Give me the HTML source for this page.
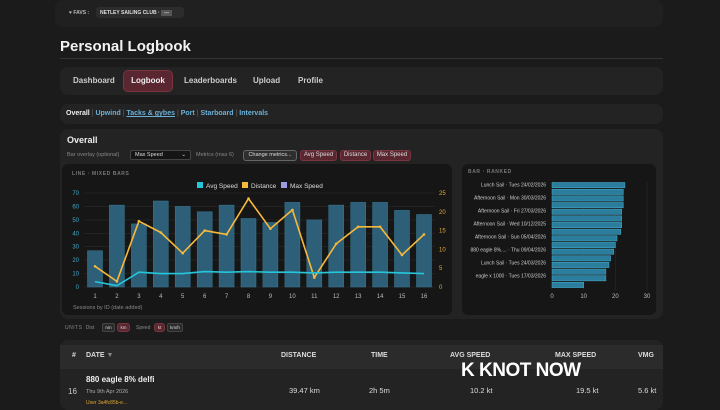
<!DOCTYPE html>
<html><head><meta charset="utf-8"><style>
*{box-sizing:border-box;margin:0;padding:0}
body{width:720px;height:405px;background:#1b1b1b;font-family:"Liberation Sans",sans-serif;color:#ddd;position:relative;overflow:hidden}
.abs{position:absolute}
.panel{position:absolute;background:#232323;border-radius:8px}
.pill{position:absolute;border-radius:3px;font-size:6px;color:#ddd;background:#5a2630;border:1px solid #7a3440;text-align:center;line-height:9px}
</style></head><body>
<div class="panel" style="left:55px;top:0;width:608px;height:27px;background:#202020"></div>
<div class="abs" style="left:69px;top:10px;font-size:5px;color:#bbb;font-weight:bold">♥ FAVS :</div>
<div class="abs" style="left:96px;top:7px;width:88px;height:11px;background:#2c2c2c;border-radius:3px;font-size:5px;font-weight:bold;color:#ddd;padding:3px 4px">NETLEY SAILING CLUB · <span style="background:#555;padding:0 3px">---</span></div>
<div class="abs" style="left:60px;top:38px;font-size:15px;font-weight:bold;color:#f2f2f2">Personal Logbook</div>
<div class="abs" style="left:60px;top:58px;width:603px;height:1px;background:#333"></div>
<div class="panel" style="left:60px;top:67px;width:603px;height:28px"></div>
<div class="abs" style="left:73px;top:76px;font-size:8px;font-weight:bold;color:#ccc">Dashboard</div>
<div class="abs" style="left:123px;top:70px;width:50px;height:22px;background:#5a2630;border:1px solid #7a3440;border-radius:5px;font-size:8px;font-weight:bold;color:#eee;text-align:center;line-height:20px">Logbook</div>
<div class="abs" style="left:184px;top:76px;font-size:8px;font-weight:bold;color:#ccc">Leaderboards</div>
<div class="abs" style="left:253px;top:76px;font-size:8px;font-weight:bold;color:#ccc">Upload</div>
<div class="abs" style="left:298px;top:76px;font-size:8px;font-weight:bold;color:#ccc">Profile</div>
<div class="panel" style="left:60px;top:104px;width:603px;height:20px"></div>
<div class="abs" style="left:66px;top:110px;font-size:7px;font-weight:bold;color:#eee;white-space:nowrap">Overall <span style="color:#666;font-weight:normal">|</span> <span style="color:#6ab0d8">Upwind</span> <span style="color:#666;font-weight:normal">|</span> <span style="color:#6ab0d8;text-decoration:underline">Tacks &amp; gybes</span> <span style="color:#666;font-weight:normal">|</span> <span style="color:#6ab0d8">Port</span> <span style="color:#666;font-weight:normal">|</span> <span style="color:#6ab0d8">Starboard</span> <span style="color:#666;font-weight:normal">|</span> <span style="color:#6ab0d8">Intervals</span></div>
<div class="panel" style="left:60px;top:129px;width:603px;height:190px"></div>
<div class="abs" style="left:67px;top:135px;font-size:9px;font-weight:bold;color:#eee">Overall</div>
<div class="abs" style="left:67px;top:152px;font-size:5.5px;color:#888">Bar overlay (optional)</div>
<div class="abs" style="left:130px;top:150px;width:61px;height:10px;background:#151515;border:1px solid #444;border-radius:2px;font-size:5.5px;color:#ddd;padding:1px 4px">Max Speed<span style="float:right">⌄</span></div>
<div class="abs" style="left:196px;top:152px;font-size:5.5px;color:#888">Metrics (max 6)</div>
<div class="abs" style="left:243px;top:150px;width:54px;height:11px;background:#2e2e2e;border:1px solid #666;border-radius:3px;font-size:5.5px;color:#ddd;text-align:center;line-height:9px">Change metrics...</div>
<div class="pill" style="left:300px;top:150px;width:37px;height:11px">Avg Speed</div>
<div class="pill" style="left:340px;top:150px;width:31px;height:11px">Distance</div>
<div class="pill" style="left:373px;top:150px;width:38px;height:11px">Max Speed</div>
<svg class="abs" style="left:0;top:0" width="720" height="405" font-family="Liberation Sans, sans-serif">
<rect x="62" y="164" width="390" height="151" rx="6" fill="#161616"/>
<text x="72" y="175" font-size="5" fill="#777" font-weight="bold" letter-spacing="0.6">LINE · MIXED BARS</text>
<rect x="197" y="182" width="6" height="6" fill="#26c6da"/><text x="206" y="188" font-size="6.5" fill="#ddd">Avg Speed</text>
<rect x="242" y="182" width="6" height="6" fill="#f6b93b"/><text x="251" y="188" font-size="6.5" fill="#ddd">Distance</text>
<rect x="281" y="182" width="6" height="6" fill="#9c9ce0"/><text x="290" y="188" font-size="6.5" fill="#ddd">Max Speed</text>
<g stroke="#2a2a2a" stroke-width="0.6">
<line x1="84" x2="435" y1="287" y2="287"/><line x1="84" x2="435" y1="273.6" y2="273.6"/><line x1="84" x2="435" y1="260.1" y2="260.1"/><line x1="84" x2="435" y1="246.7" y2="246.7"/><line x1="84" x2="435" y1="233.3" y2="233.3"/><line x1="84" x2="435" y1="219.9" y2="219.9"/><line x1="84" x2="435" y1="206.4" y2="206.4"/><line x1="84" x2="435" y1="193" y2="193"/>
</g>
<g font-size="6" fill="#3fa9c7" text-anchor="end">
<text x="79" y="289">0</text><text x="79" y="275.6">10</text><text x="79" y="262">20</text><text x="79" y="248.7">30</text><text x="79" y="235.3">40</text><text x="79" y="222">50</text><text x="79" y="208.4">60</text><text x="79" y="195">70</text></g>
<g font-size="6" fill="#e0a82e">
<text x="439" y="289">0</text><text x="439" y="270.2">5</text><text x="439" y="251.4">10</text><text x="439" y="232.6">15</text><text x="439" y="213.8">20</text><text x="439" y="195">25</text></g>
<g fill="#2d5f78" stroke="#3a7a96" stroke-width="0.5">
<rect x="87.5" y="250.7" width="15" height="36.3"/><rect x="109.4" y="205.1" width="15" height="81.9"/><rect x="131.4" y="223.9" width="15" height="63.1"/><rect x="153.3" y="201" width="15" height="86"/><rect x="175.2" y="206.4" width="15" height="80.6"/><rect x="197.2" y="211.8" width="15" height="75.2"/><rect x="219.1" y="205.1" width="15" height="81.9"/><rect x="241" y="218.5" width="15" height="68.5"/><rect x="262.9" y="222.5" width="15" height="64.5"/><rect x="284.9" y="202.4" width="15" height="84.6"/><rect x="306.8" y="219.9" width="15" height="67.1"/><rect x="328.7" y="205.1" width="15" height="81.9"/><rect x="350.7" y="202.4" width="15" height="84.6"/><rect x="372.6" y="202.4" width="15" height="84.6"/><rect x="394.5" y="210.4" width="15" height="76.6"/><rect x="416.5" y="214.5" width="15" height="72.5"/>
</g>
<polyline fill="none" stroke="#f6b93b" stroke-width="1.6" stroke-linejoin="round" points="95,266.3 116.9,281.4 138.9,221.2 160.8,232.5 182.7,253.2 204.7,230.6 226.6,234.4 248.5,198.6 270.4,228.7 292.4,209.9 314.3,277.6 336.2,243.8 358.2,226.8 380.1,226.8 402,255 424,234.4"/>
<g fill="#f6b93b"><circle cx="95" cy="266.3" r="1.3"/><circle cx="116.9" cy="281.4" r="1.3"/><circle cx="138.9" cy="221.2" r="1.3"/><circle cx="160.8" cy="232.5" r="1.3"/><circle cx="182.7" cy="253.2" r="1.3"/><circle cx="204.7" cy="230.6" r="1.3"/><circle cx="226.6" cy="234.4" r="1.3"/><circle cx="248.5" cy="198.6" r="1.3"/><circle cx="270.4" cy="228.7" r="1.3"/><circle cx="292.4" cy="209.9" r="1.3"/><circle cx="314.3" cy="277.6" r="1.3"/><circle cx="336.2" cy="243.8" r="1.3"/><circle cx="358.2" cy="226.8" r="1.3"/><circle cx="380.1" cy="226.8" r="1.3"/><circle cx="402" cy="255" r="1.3"/><circle cx="424" cy="234.4" r="1.3"/></g>
<polyline fill="none" stroke="#26c6da" stroke-width="1.6" stroke-linejoin="round" points="95,281.6 116.9,285.7 138.9,272.2 160.8,273.6 182.7,273.6 204.7,271.6 226.6,272.2 248.5,271.6 270.4,272.2 292.4,272.2 314.3,272.9 336.2,272.2 358.2,272.2 380.1,272.2 402,272.9 424,273.6"/>
<g font-size="6" fill="#bbb" text-anchor="middle">
<text x="95" y="298">1</text><text x="116.9" y="298">2</text><text x="138.9" y="298">3</text><text x="160.8" y="298">4</text><text x="182.7" y="298">5</text><text x="204.7" y="298">6</text><text x="226.6" y="298">7</text><text x="248.5" y="298">8</text><text x="270.4" y="298">9</text><text x="292.4" y="298">10</text><text x="314.3" y="298">11</text><text x="336.2" y="298">12</text><text x="358.2" y="298">13</text><text x="380.1" y="298">14</text><text x="402" y="298">15</text><text x="424" y="298">16</text></g>
<text x="73" y="309" font-size="5.5" fill="#888">Sessions by ID (date added)</text>

<rect x="462" y="164" width="194" height="151" rx="6" fill="#161616"/>
<text x="468" y="173" font-size="5" fill="#777" font-weight="bold" letter-spacing="0.6">BAR · RANKED</text>
<g stroke="#2a2a2a" stroke-width="0.6"><line x1="583.7" x2="583.7" y1="182" y2="290"/><line x1="615.4" x2="615.4" y1="182" y2="290"/><line x1="647" x2="647" y1="182" y2="290"/></g>
<g fill="#2a7d9c" stroke="#4ab0d0" stroke-width="0.5">
<rect x="552" y="182.5" width="72.9" height="5.3"/><rect x="552" y="189.2" width="71.3" height="5.3"/><rect x="552" y="195.8" width="71.3" height="5.3"/><rect x="552" y="202.5" width="71.3" height="5.3"/><rect x="552" y="209.1" width="69.7" height="5.3"/><rect x="552" y="215.8" width="69.7" height="5.3"/><rect x="552" y="222.4" width="69.7" height="5.3"/><rect x="552" y="229.1" width="68.8" height="5.3"/><rect x="552" y="235.7" width="65" height="5.3"/><rect x="552" y="242.4" width="63.4" height="5.3"/><rect x="552" y="249" width="61.8" height="5.3"/><rect x="552" y="255.7" width="58.6" height="5.3"/><rect x="552" y="262.3" width="57" height="5.3"/><rect x="552" y="269" width="53.9" height="5.3"/><rect x="552" y="275.6" width="53.9" height="5.3"/><rect x="552" y="282.3" width="31.7" height="5.3"/></g>
<g font-size="5" fill="#ccc" text-anchor="end">
<text x="546" y="186.5">Lunch Sail · Tues 24/02/2026</text><text x="546" y="199.5">Afternoon Sail · Mon 30/03/2026</text><text x="546" y="212.5">Afternoon Sail · Fri 27/03/2026</text><text x="546" y="225.5">Afternoon Sail · Wed 10/12/2025</text><text x="546" y="238.5">Afternoon Sail · Sun 05/04/2026</text><text x="546" y="251.5">880 eagle 8%.... · Thu 09/04/2026</text><text x="546" y="264.5">Lunch Sail · Tues 24/03/2026</text><text x="546" y="277.5">eagle x 1000 · Tues 17/03/2026</text></g>
<g font-size="6" fill="#bbb" text-anchor="middle"><text x="552" y="298">0</text><text x="583.7" y="298">10</text><text x="615.4" y="298">20</text><text x="647" y="298">30</text></g>
</svg>
<div class="abs" style="left:65px;top:325px;font-size:5px;color:#888;letter-spacing:0.5px">UNITS <span style="letter-spacing:0">&nbsp;Dist</span></div>
<div class="abs" style="left:102px;top:323px;width:13px;height:9px;background:#2a2a2a;border:1px solid #444;border-radius:2px;font-size:4.5px;text-align:center;line-height:7px">nm</div>
<div class="pill" style="left:117px;top:323px;width:13px;height:9px;font-size:4.5px;line-height:7px">km</div>
<div class="abs" style="left:136px;top:325px;font-size:5px;color:#888">Speed</div>
<div class="pill" style="left:154px;top:323px;width:11px;height:9px;font-size:4.5px;line-height:7px">kt</div>
<div class="abs" style="left:167px;top:323px;width:16px;height:9px;background:#2a2a2a;border:1px solid #444;border-radius:2px;font-size:4.5px;text-align:center;line-height:7px">km/h</div>
<div class="panel" style="left:60px;top:340px;width:603px;height:70px"></div>
<div class="abs" style="left:60px;top:345px;width:603px;height:24px;background:#2b2b2b"></div>
<div class="abs" style="left:70px;top:352px;font-size:7px;font-weight:bold;color:#ddd;width:600px">
<span class="abs" style="left:2px">#</span><span class="abs" style="left:16px">DATE <span style="color:#888">▼</span></span><span class="abs" style="left:211px">DISTANCE</span><span class="abs" style="left:301px">TIME</span><span class="abs" style="left:380px">AVG SPEED</span><span class="abs" style="left:485px">MAX SPEED</span><span class="abs" style="left:568px">VMG</span></div>
<div class="abs" style="left:86px;top:375px;font-size:8px;font-weight:bold;color:#eee">880 eagle 8% delfi</div>
<div class="abs" style="left:68px;top:387px;font-size:8px;color:#ccc">16</div>
<div class="abs" style="left:86px;top:389px;font-size:5.5px;color:#aaa">Thu 9th Apr 2026</div>
<div class="abs" style="left:86px;top:400px;font-size:5px;color:#e0a82e">User 3a4fc85b-e...</div>
<div class="abs" style="left:289px;top:386px;font-size:7.5px;color:#ddd">39.47 km</div>
<div class="abs" style="left:369px;top:386px;font-size:7.5px;color:#ddd">2h 5m</div>
<div class="abs" style="left:470px;top:386px;font-size:7.5px;color:#ddd">10.2 kt</div>
<div class="abs" style="left:576px;top:386px;font-size:7.5px;color:#ddd">19.5 kt</div>
<div class="abs" style="left:638px;top:386px;font-size:7.5px;color:#ddd">5.6 kt</div>
<div class="abs" style="left:461px;top:360px;font-size:19px;font-weight:bold;color:#fff;letter-spacing:-0.5px">K KNOT NOW</div>
</body></html>
